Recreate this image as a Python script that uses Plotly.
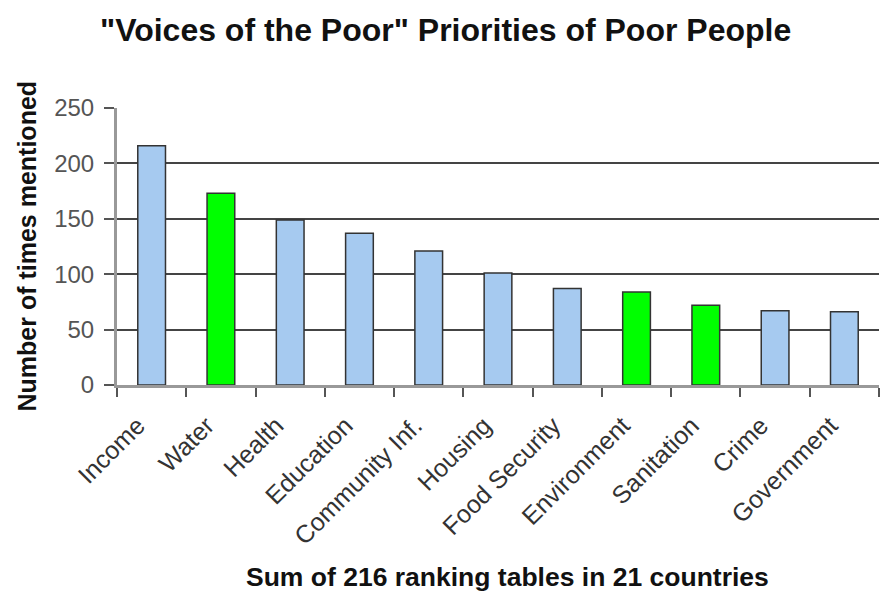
import plotly.graph_objects as go

categories = ["Income", "Water", "Health", "Education", "Community Inf.", "Housing",
              "Food Security", "Environment", "Sanitation", "Crime", "Government"]
values = [216, 173, 149, 137, 121, 101, 87, 84, 72, 67, 66]
colors = ["#A6CAF0", "#00FF00", "#A6CAF0", "#A6CAF0", "#A6CAF0", "#A6CAF0",
          "#A6CAF0", "#00FF00", "#00FF00", "#A6CAF0", "#A6CAF0"]
y_ticks = [0, 50, 100, 150, 200, 250]

fig = go.Figure(go.Bar(
    x=categories, y=values,
    marker=dict(color=colors, line=dict(color="#333333", width=1.5)),
    width=0.4,
))

font = "Liberation Sans, Arial, sans-serif"
fig.update_layout(
    width=882, height=595,
    margin=dict(l=117, r=3, t=108, b=210),
    plot_bgcolor="white", paper_bgcolor="white",
    showlegend=False,
    font=dict(family=font, color="#444444", size=15),
    annotations=[
        dict(text="<b>\"Voices of the Poor\" Priorities of Poor People</b>",
             xref="paper", yref="paper", x=(445 - 117) / 762, y=1.0, yshift=78,
             xanchor="center", yanchor="middle", showarrow=False,
             font=dict(size=32, color="#111111", family=font)),
        dict(text="<b>Number of times mentioned</b>",
             xref="paper", yref="paper", x=0, xshift=-91, y=0.5,
             xanchor="center", yanchor="middle", textangle=-90, showarrow=False,
             font=dict(size=25, color="#111111", family=font)),
        dict(text="<b>Sum of 216 ranking tables in 21 countries</b>",
             xref="paper", yref="paper", x=(507 - 117) / 762, y=0, yshift=-192,
             xanchor="center", yanchor="middle", showarrow=False,
             font=dict(size=26.5, color="#111111", family=font)),
    ],
)
fig.update_xaxes(
    tickangle=-45, ticks="outside", tickson="boundaries", ticklen=9,
    tickcolor="#555555", tickwidth=1.5, showline=True, linecolor="#999999", linewidth=3,
    showgrid=False, tickfont=dict(size=25, color="#333333"),
    ticklabelstandoff=13, ticklabelshift=-14,
    range=[-0.5, 10.5],
)
fig.update_yaxes(
    range=[0, 250], tickvals=y_ticks, ticks="outside", ticklen=10,
    tickcolor="#555555", tickwidth=1.5, showline=True, linecolor="#999999", linewidth=3,
    showgrid=True, gridcolor="#444444", gridwidth=2, zeroline=False,
    tickfont=dict(size=24, color="#555555"), ticklabelstandoff=5,
)
fig.write_html("out.html")
